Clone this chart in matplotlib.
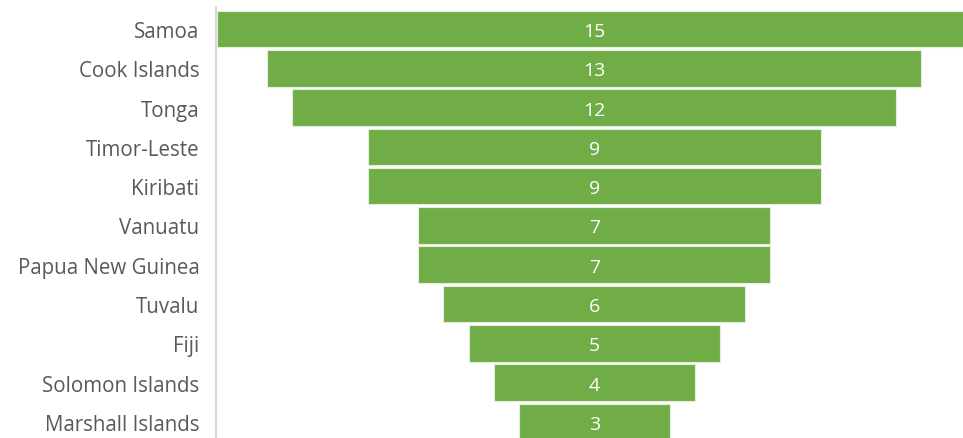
import matplotlib.pyplot as plt
import numpy as np

countries = ['Samoa', 'Cook Islands', 'Tonga', 'Timor-Leste', 'Kiribati', 'Vanuatu',
             'Papua New Guinea', 'Tuvalu', 'Fiji', 'Solomon Islands', 'Marshall Islands']
values = [15, 13, 12, 9, 9, 7, 7, 6, 5, 4, 3]

plt.rcParams['font.family'] = ['Open Sans', 'DejaVu Sans']

fig = plt.figure(figsize=(9.63, 4.39), dpi=100)
ax = fig.add_axes([216/963, 0, 1 - 216/963, 1])

y = np.arange(len(values))
v = np.array(values)
ax.barh(y, v, left=-v/2, height=0.93, color='#70AD47', edgecolor='#e2efda', linewidth=0.8)

for yi, val in zip(y, values):
    ax.text(0, yi + 0.05, str(val), ha='center', va='center', color='white', fontsize=14)

ax.set_xlim(-7.52, 7.33)
ax.set_ylim(10.41, -0.763)
ax.set_yticks(y)
ax.set_yticklabels(countries, fontsize=14.8, color='#595959')
ax.tick_params(axis='y', length=0, pad=12)
ax.set_xticks([])
for s in ['top', 'right', 'bottom']:
    ax.spines[s].set_visible(False)
ax.spines['left'].set_color('#d9d9d9')
ax.spines['left'].set_linewidth(1.5)
ax.spines['left'].set_bounds(-0.55, 10.41)

fig.savefig('out.png', dpi=100)
